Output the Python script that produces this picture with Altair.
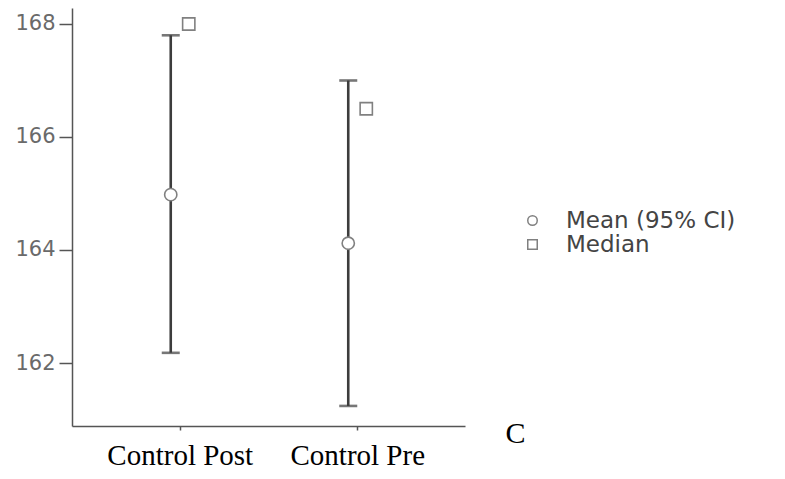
import altair as alt
import pandas as pd

groups = ["Control Post", "Control Pre"]
means = [164.98, 164.12]
ci_lower = [162.18, 161.24]
ci_upper = [167.80, 167.00]
medians = [168.0, 166.5]
legend_labels = ["Mean (95% CI)", "Median"]
y_ticks = [162, 164, 166, 168]

df = pd.DataFrame({"group": groups, "mean": means, "lo": ci_lower,
                   "hi": ci_upper, "median": medians})
pts = pd.concat([
    pd.DataFrame({"group": groups, "value": means, "kind": legend_labels[0]}),
    pd.DataFrame({"group": groups, "value": medians, "kind": legend_labels[1]}),
], ignore_index=True)

bar_color = "#3d3d3d"
axis_color = "#555555"
pt_stroke = "#808080"
y_scale = alt.Scale(domain=[160.885, 168.283], nice=False, zero=False)

x_enc = alt.X(
    "group:N", sort=groups,
    scale=alt.Scale(type="point", padding=0.607),
    axis=alt.Axis(
        title="C", titleX=443, titleY=16, titleAlign="center",
        titleBaseline="alphabetic", titleFont="Liberation Serif",
        titleFontSize=30, titleFontWeight="normal", titleColor="black",
        labelFont="Liberation Serif", labelFontSize=29, labelColor="black",
        labelAngle=0, labelBaseline="alphabetic", labelPadding=34,
        tickSize=4, tickColor=axis_color, tickWidth=1.5,
        domainColor=axis_color, domainWidth=1.5, grid=False,
    ),
)

y_axis = alt.Axis(
    title="", values=y_ticks, grid=False, labelFont="DejaVu Sans",
    labelFontSize=21, labelColor="#6a6a6a", labelPadding=4, tickSize=13,
    tickColor=axis_color, tickWidth=1.5, domainColor=axis_color,
    domainWidth=1.5,
)

base = alt.Chart(df)

rule = base.mark_rule(color=bar_color, strokeWidth=2.6, xOffset=-9).encode(
    x=x_enc,
    y=alt.Y("lo:Q", scale=y_scale, axis=y_axis),
    y2="hi:Q",
)

cap_lo = base.mark_tick(color=bar_color, thickness=2.6, size=18, xOffset=-9).encode(
    x=x_enc, y=alt.Y("lo:Q", scale=y_scale, axis=y_axis)
)
cap_hi = base.mark_tick(color=bar_color, thickness=2.6, size=18, xOffset=-9).encode(
    x=x_enc, y=alt.Y("hi:Q", scale=y_scale, axis=y_axis)
)

legend = alt.Legend(
    title=None, orient="none", legendX=449, legendY=201,
    labelFont="DejaVu Sans", labelFontSize=23, labelColor="#444444",
    labelOffset=22, labelLimit=400, symbolSize=90,
    rowPadding=0, padding=0,
)

points = alt.Chart(pts).mark_point(
    filled=False, color=pt_stroke, fill="white", fillOpacity=1,
    strokeWidth=1.6, size=150,
).encode(
    x=x_enc,
    xOffset=alt.XOffset("kind:N", scale=alt.Scale(type="point", domain=legend_labels,
                                                  range=[-9, 9], padding=0)),
    y=alt.Y("value:Q", scale=y_scale, axis=y_axis),
    shape=alt.Shape("kind:N", scale=alt.Scale(domain=legend_labels,
                                              range=["circle", "square"]),
                    legend=legend),
)

chart = alt.layer(rule, cap_lo, cap_hi, points).properties(
    width=393, height=418, background="white",
    autosize=alt.AutoSizeParams(type="none"),
    padding={"left": 64, "top": 0, "right": 312, "bottom": 45},
).configure_view(stroke=None)

chart.save("out.html", embed_options={"renderer": "svg", "actions": False})
